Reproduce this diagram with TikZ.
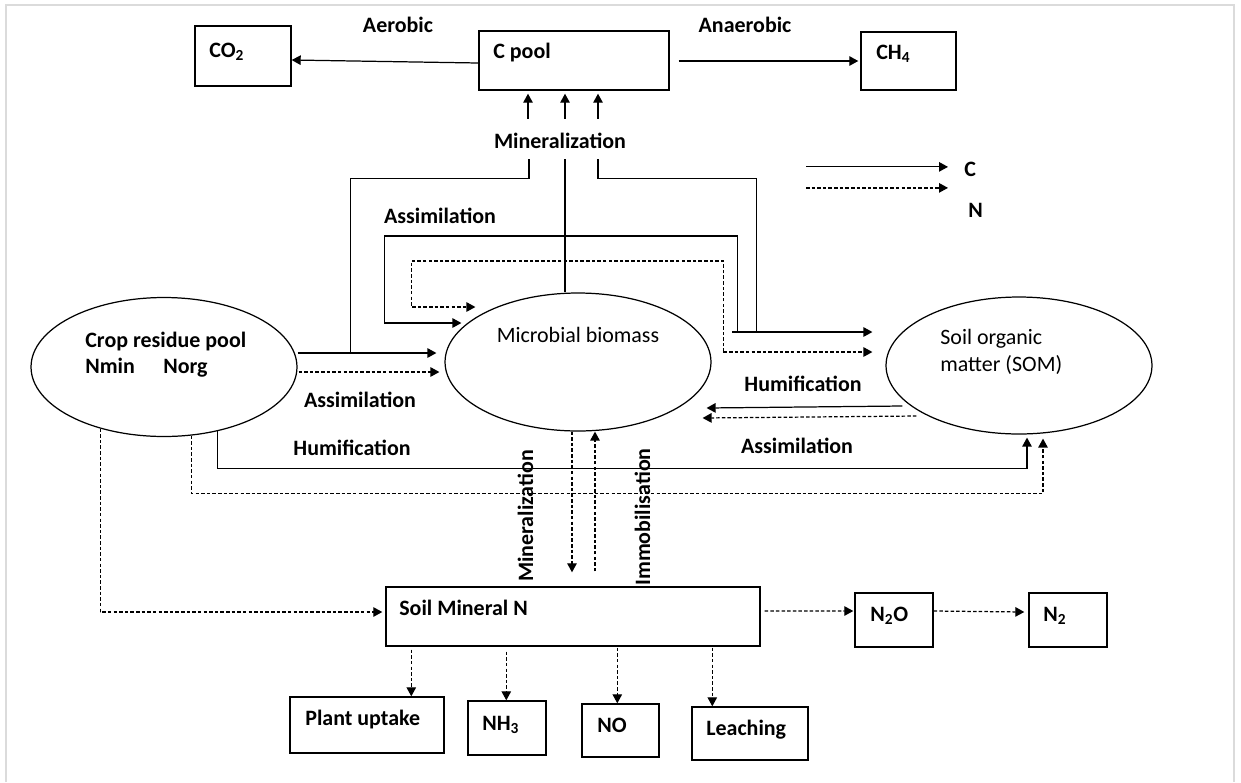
\documentclass[tikz,border=0pt]{standalone}
\usepackage{fontspec}
\setmainfont{Carlito}
\usetikzlibrary{shapes.geometric,arrows.meta,positioning,calc,fit}

\begin{document}
\begin{tikzpicture}[%
      x=0.02cm, y=-0.02cm,
      font=\fontsize{12.5}{15}\selectfont,
      lbl/.style={font=\fontsize{12.5}{15}\selectfont\bfseries, inner sep=0pt, anchor=base west},
      txt/.style={inner sep=0pt, anchor=base west},
      pool/.style={draw, line width=0.8pt, inner sep=0pt},
      blob/.style={draw, ellipse, line width=0.7pt, inner sep=0pt,
                   minimum width=5.32cm, minimum height=2.76cm},
      cflow/.style={line width=0.7pt},
      nflow/.style={line width=0.7pt, dash pattern=on 2pt off 1.2pt},
      flowtip/.style={-{Triangle[length=0.18cm, width=0.19cm]}},
      ]
      \useasboundingbox (0,0) rectangle (1241,782);
      \draw[black!14, line width=1pt] (6,782) -- (6,5) -- (1234,5) -- (1234,782);

      \node[pool, fit={(195,26) (291,86)}] (co2) {};
      \node[pool, fit={(479,31) (669,90)}] (cpool) {};
      \node[pool, fit={(861,32) (956,90)}] (ch4) {};
      \node[pool, fit={(386,587) (760,646)}] (minN) {};
      \node[pool, fit={(290,697) (444,753)}] (uptake) {};
      \node[pool, fit={(468,701) (546,755)}] (nh3) {};
      \node[pool, fit={(582,704) (659,757)}] (no) {};
      \node[pool, fit={(692,707) (808,760)}] (leach) {};
      \node[pool, fit={(855,593) (933,647)}] (n2o) {};
      \node[pool, fit={(1029,593) (1107,647)}] (n2) {};

      \node[blob, minimum height=2.78cm] (crop) at (164,367) {};
      \node[blob] (micro) at (578,362) {};
      \node[blob, minimum height=2.74cm] (som) at (1019,365.5) {};

      \node[lbl] (co2-t) at (209,57) {CO\textsubscript{2}};
      \node[lbl] (cpool-t) at (493,58) {C pool};
      \node[lbl] (ch4-t) at (876,59) {CH\textsubscript{4}};
      \node[lbl] (minN-t) at (399,615) {Soil Mineral N};
      \node[lbl] (uptake-t) at (305,725) {Plant uptake};
      \node[lbl] (nh3-t) at (482,730) {NH\textsubscript{3}};
      \node[lbl] (no-t) at (597,732) {NO};
      \node[lbl] (leach-t) at (706,735) {Leaching};
      \node[lbl] (n2o-t) at (870,621) {N\textsubscript{2}O};
      \node[lbl] (n2-t) at (1043,621) {N\textsubscript{2}};

      \node[lbl] (crop-t) at (85,347) {Crop residue pool};
      \node[lbl] (nmin-t) at (85,373) {Nmin};
      \node[lbl] (norg-t) at (163,373) {Norg};
      \node[txt, anchor=base] (micro-t) at (578,342) {Microbial biomass};
      \node[txt] (som-t) at (940,344) {Soil organic};
      \node[txt] (som-t2) at (940,371) {matter (SOM)};

      \node[lbl, anchor=base] (aer) at (398,32) {Aerobic};
      \node[lbl, anchor=base] (anaer) at (745,32) {Anaerobic};
      \node[lbl, anchor=base] (minz) at (560,148) {Mineralization};
      \node[lbl, anchor=base] (assim-a) at (440,223) {Assimilation};
      \node[lbl, anchor=base] (assim-b) at (360,407) {Assimilation};
      \node[lbl, anchor=base] (humi-a) at (352,455) {Humification};
      \node[lbl, anchor=base] (humi-b) at (803,391) {Humification};
      \node[lbl, anchor=base] (assim-c) at (797,453) {Assimilation};
      \node[lbl, rotate=90, anchor=base] (minz-v) at (533,516) {Mineralization};
      \node[lbl, rotate=90, anchor=base] (immo-v) at (650,517) {Immobilisation};
      \node[lbl] (legC) at (964,176) {C};
      \node[lbl] (legN) at (968,217) {N};

      \draw[cflow, flowtip] ($(cpool.west)+(0,2.5)$) -- ($(co2.east)+(0,4)$);
      \draw[cflow, flowtip] ($(cpool.east)+(9,0.5)$) -- ($(ch4.west)+(-2,0)$);
      \foreach \dx in {-46,-9,24}
            \draw[cflow, flowtip] ($(cpool.south)+(\dx,28)$) -- ($(cpool.south)+(\dx,3)$);

      \draw[cflow] ($(crop.east)+(53,-14)$) |- ($(cpool.south)+(-45,88)$) -- ++(0,-20);
      \draw[cflow] ($(micro.north)+(-13,0)$) -- ($(cpool.south)+(-9,68)$);
      \draw[cflow] ($(som.west)+(-129,-33.5)$) |- ($(cpool.south)+(24,88)$) -- ++(0,-20);

      \draw[cflow, flowtip] ($(crop.east)+(0,-14)$) -- ($(micro.west)+(-8,-9)$);
      \draw[nflow, flowtip] ($(crop.east)+(1,5)$) -- ($(micro.west)+(-5,10)$);

      \draw[cflow, flowtip] ($(som.west)+(-148,-33.5)$) -- ++(0,-96) -| ($(micro.west)+(-60,-39)$) -- ($(micro.west)+(17,-39)$);
      \draw[cflow, flowtip] ($(som.west)+(-153,-33.5)$) -- ($(som.west)+(-13,-33.5)$);
      \draw[nflow, flowtip] ($(som.west)+(-162,-13.5)$) -- ++(0,-91) -| ($(micro.west)+(-33,-55)$) -- ($(micro.west)+(31,-55)$);
      \draw[nflow, flowtip] ($(som.west)+(-162,-13.5)$) -- ($(som.west)+(-13,-13.5)$);

      \draw[cflow, flowtip] ($(som.west)+(17,40.5)$) -- ($(micro.east)+(-5,46)$);
      \draw[nflow, flowtip] ($(som.west)+(31,50.5)$) -- ($(micro.east)+(-9,56)$);

      \draw[cflow, flowtip] (crop.-50) |- ($(som.south)+(8,34)$) -- ($(som.south)+(8,3)$);
      \draw[nflow, flowtip] (crop.-68) |- ($(som.south)+(24,59)$) -- ($(som.south)+(24,4)$);
      \draw[nflow, flowtip] (crop.224) |- ($(minN.west)+(-3,-4.5)$);

      \draw[nflow, flowtip] ($(micro.south)+(-6,0)$) -- ($(minN.north)+(-1,-14)$);
      \draw[nflow, flowtip] ($(minN.north)+(22,-15)$) -- ($(micro.south)+(17,0)$);

      \foreach \dx/\gap/\tgt in {26/3/uptake, 121/5/nh3, 232/1/no, 327/1/leach}
            \draw[nflow, flowtip] ($(minN.south west)+(\dx,\gap)$) coordinate (s) -- (s |- \tgt.north);
      \draw[nflow, flowtip] ($(minN.east)+(4,-5.5)$) -- ($(n2o.west)+(-1,-9)$);
      \draw[nflow, flowtip] ($(n2o.east)+(0,-9)$) -- ($(n2.west)+(-4,-8)$);

      \draw[cflow, flowtip] ($(legC.west)+(-158,-2)$) -- ($(legC.west)+(-16,-2)$);
      \draw[nflow, flowtip] ($(legN.west)+(-162,-22)$) -- ($(legN.west)+(-20,-22)$);
\end{tikzpicture}
\end{document}
